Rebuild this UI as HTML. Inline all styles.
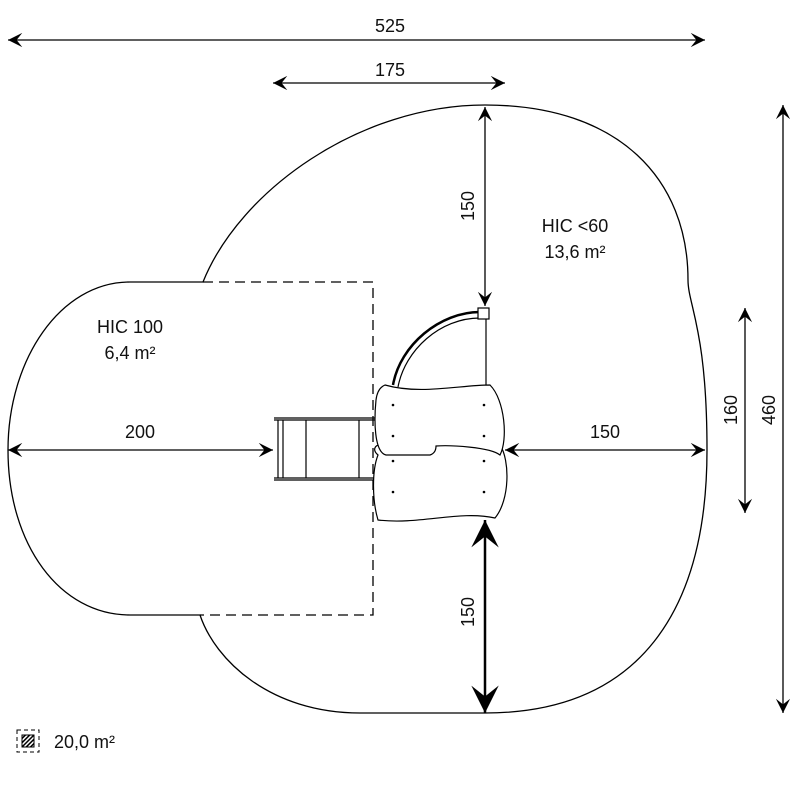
<!DOCTYPE html>
<html><head><style>body{margin:0;background:#fff}svg{display:block}text{font-family:"Liberation Sans",sans-serif;font-size:18px;fill:#111}</style></head><body>
<svg width="800" height="800" viewBox="0 0 800 800" xmlns="http://www.w3.org/2000/svg">
<defs>
<marker id="a" viewBox="0 0 10 10" refX="10" refY="5" markerWidth="11" markerHeight="11" orient="auto-start-reverse"><path d="M0,0 L10,5 L0,10 L4,5 Z" fill="#000"/></marker>
<pattern id="h" width="3" height="3" patternUnits="userSpaceOnUse" patternTransform="rotate(45)"><rect width="1.5" height="3" fill="#000"/></pattern>
</defs>
<path d="M130,282 L203,282 C240,190 360,105 485,105 C620,105 688,180 688,280 C688,305 707,330 707,450 C707,610 640,713 485,713 L360,713 C270,713 215,660 200,615 L130,615 C60,615 8,545 8,450 C8,360 60,282 130,282 Z" fill="none" stroke="#000" stroke-width="1.3"/>
<path d="M203,282 L373,282 L373,615 L200,615" fill="none" stroke="#000" stroke-width="1.3" stroke-dasharray="10,6"/>
<g stroke="#000" stroke-width="1.3" fill="none" marker-start="url(#a)" marker-end="url(#a)">
<line x1="8" y1="40" x2="705" y2="40"/>
<line x1="273" y1="83" x2="505" y2="83"/>
<line x1="485" y1="107" x2="485" y2="306"/>
<line x1="8" y1="450" x2="273" y2="450"/>
<line x1="505" y1="450" x2="705" y2="450"/>
<line x1="485" y1="520" x2="485" y2="713" stroke-width="2.5"/>
<line x1="745" y1="308" x2="745" y2="513"/>
<line x1="783" y1="105" x2="783" y2="713"/>
</g>
<text x="390" y="32" text-anchor="middle">525</text>
<text x="390" y="76" text-anchor="middle">175</text>
<text x="140" y="438" text-anchor="middle">200</text>
<text x="605" y="438" text-anchor="middle">150</text>
<text transform="translate(474,206) rotate(-90)" text-anchor="middle">150</text>
<text transform="translate(474,612) rotate(-90)" text-anchor="middle">150</text>
<text transform="translate(737,410) rotate(-90)" text-anchor="middle">160</text>
<text transform="translate(775,410) rotate(-90)" text-anchor="middle">460</text>
<text x="575" y="232" text-anchor="middle">HIC &lt;60</text>
<text x="575" y="258" text-anchor="middle">13,6 m²</text>
<text x="130" y="333" text-anchor="middle">HIC 100</text>
<text x="130" y="359" text-anchor="middle">6,4 m²</text>
<text x="54" y="748">20,0 m²</text>
<rect x="17" y="730" width="22" height="22" fill="none" stroke="#000" stroke-dasharray="4,3"/>
<rect x="22" y="735" width="12" height="12" fill="url(#h)" stroke="#000"/>
<g stroke="#000" fill="#fff" stroke-width="1.2">
<path d="M274,418 L375,418 M274,420 L375,420 M274,478 L375,478 M274,480 L375,480 M278,420 L278,478 M283,420 L283,478 M306,420 L306,478 M359,420 L359,478"/>
<path d="M393,385 C400,345 440,312 480,312" stroke-width="2.5" fill="none"/>
<path d="M398,387 C405,350 440,318 480,318" fill="none"/>
<line x1="486" y1="318" x2="486" y2="388"/>
<rect x="478" y="308" width="11" height="11"/>
<path d="M378,520 C372,500 372,470 378,455 C372,450 375,445 380,445 L500,445 C510,460 510,500 495,518 C460,510 420,525 378,520 Z"/>
<path d="M385,385 C420,395 460,385 490,385 C505,400 508,440 500,455 C490,447 450,445 436,446 C436,452 433,454 430,455 L386,455 C374,452 374,420 376,400 C377,392 380,387 385,385 Z"/>
</g>
<g fill="#000">
<circle cx="393" cy="405" r="1.3"/><circle cx="484" cy="405" r="1.3"/><circle cx="393" cy="436" r="1.3"/><circle cx="484" cy="436" r="1.3"/>
<circle cx="393" cy="461" r="1.3"/><circle cx="484" cy="461" r="1.3"/><circle cx="393" cy="492" r="1.3"/><circle cx="484" cy="492" r="1.3"/>
</g>
</svg>
</body></html>
